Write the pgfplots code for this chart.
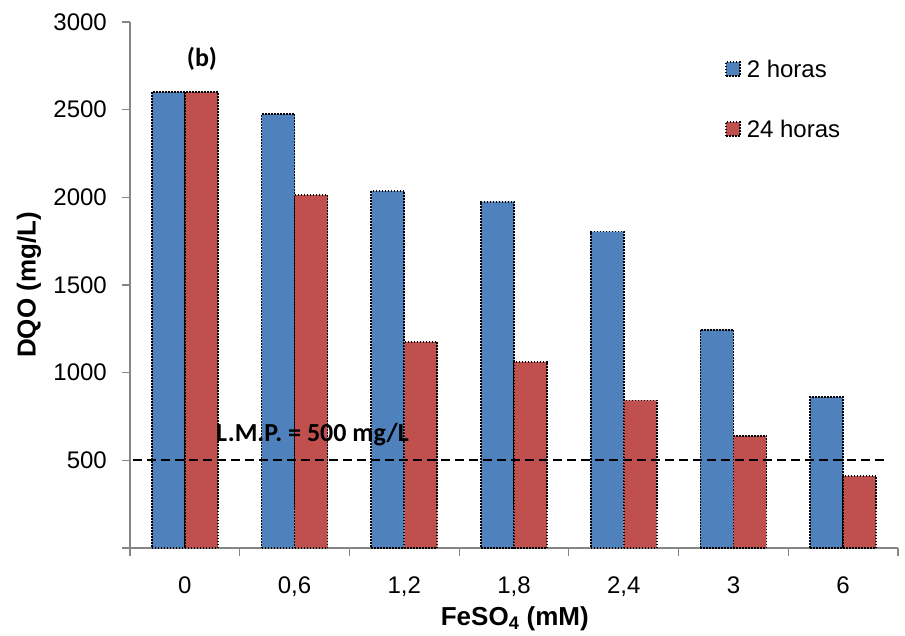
\documentclass[border=0pt]{standalone}
\usepackage{pgfplots}
\pgfplotsset{compat=1.18}
\usepackage{fontspec}
\setmainfont{Liberation Sans}
\newfontfamily\calibri{Carlito}
\definecolor{xlblue}{HTML}{4F81BD}
\definecolor{xlred}{HTML}{C0504D}
\definecolor{axgray}{HTML}{868686}
\pgfplotsset{sqlegend/.style={legend image code/.code={\draw[##1] (0pt,-7pt) rectangle (14pt,7pt);}}}
\begin{document}
\begin{tikzpicture}
\useasboundingbox (0,0) rectangle (905pt,635pt);
\begin{axis}[
  at={(130pt,87pt)}, anchor=south west,
  scale only axis, width=768pt, height=526pt,
  xmin=-0.5, xmax=6.5, ymin=0, ymax=3000,
  axis x line*=bottom, axis y line*=left,
  axis line style={axgray, line width=1.2pt},
  xtick={-0.5,0.5,1.5,2.5,3.5,4.5,5.5,6.5},
  x tick label as interval,
  xticklabels={0,{0,6},{1,2},{1,8},{2,4},3,6},
  ytick={0,500,1000,1500,2000,2500,3000},
  yticklabels={{},500,1000,1500,2000,2500,3000},
  tick align=outside, major tick length=8pt,
  tick style={axgray, line width=1.2pt},
  /pgf/number format/assume math mode=true,
  /pgf/number format/1000 sep={},
  tick label style={font=\fontsize{24}{28}\selectfont},
  yticklabel style={anchor=east, inner sep=0pt, xshift=-15pt},
  xticklabel style={anchor=north, inner sep=0pt, yshift=-21pt},
  xlabel={\textbf{FeSO\textsubscript{4} (mM)}},
  ylabel={\textbf{DQO (mg/L)}},
  every axis x label/.style={at={(axis description cs:0.501,-0.135)}, anchor=center,
    font=\fontsize{26}{30}\selectfont},
  every axis y label/.style={at={(axis description cs:-0.1315,0.5)}, anchor=center, rotate=90,
    font=\fontsize{26}{30}\selectfont},
  legend style={at={(axis description cs:0.7747,0.9268)}, anchor=north west,
    draw=none, fill=none, inner sep=0pt, row sep=43pt, column sep=6pt,
    nodes={inner sep=0pt, text height=17pt, text depth=0pt, anchor=west},
    font=\fontsize{24}{28}\selectfont},
  clip=false,
]
\addplot[ybar, bar width=33pt, bar shift=-16.5pt, fill=xlblue, draw=black,
  line width=1.6pt, dash pattern=on 1.5pt off 1.5pt, sqlegend]
  coordinates {(0,2600) (1,2475) (2,2035) (3,1975) (4,1805) (5,1245) (6,860)};
\addlegendentry{2 horas}
\addplot[ybar, bar width=33pt, bar shift=16.5pt, fill=xlred, draw=black,
  line width=1.6pt, dash pattern=on 1.5pt off 1.5pt, sqlegend]
  coordinates {(0,2600) (1,2012) (2,1175) (3,1062) (4,842) (5,640) (6,410)};
\addlegendentry{24 horas}
\addplot[black, line width=1.8pt, dash pattern=on 9pt off 5pt, mark=none, forget plot]
  coordinates {(-0.47,500) (6.37,500)};
\node[anchor=center, font=\calibri\bfseries\fontsize{26}{30}\selectfont] at (axis cs:0.156,2789) {(b)};
\node[anchor=base west, inner sep=0pt, font=\calibri\bfseries\fontsize{26}{30}\selectfont] at (axis cs:0.284,606) {L.M.P. = 500 mg/L};
\end{axis}
\end{tikzpicture}
\end{document}
